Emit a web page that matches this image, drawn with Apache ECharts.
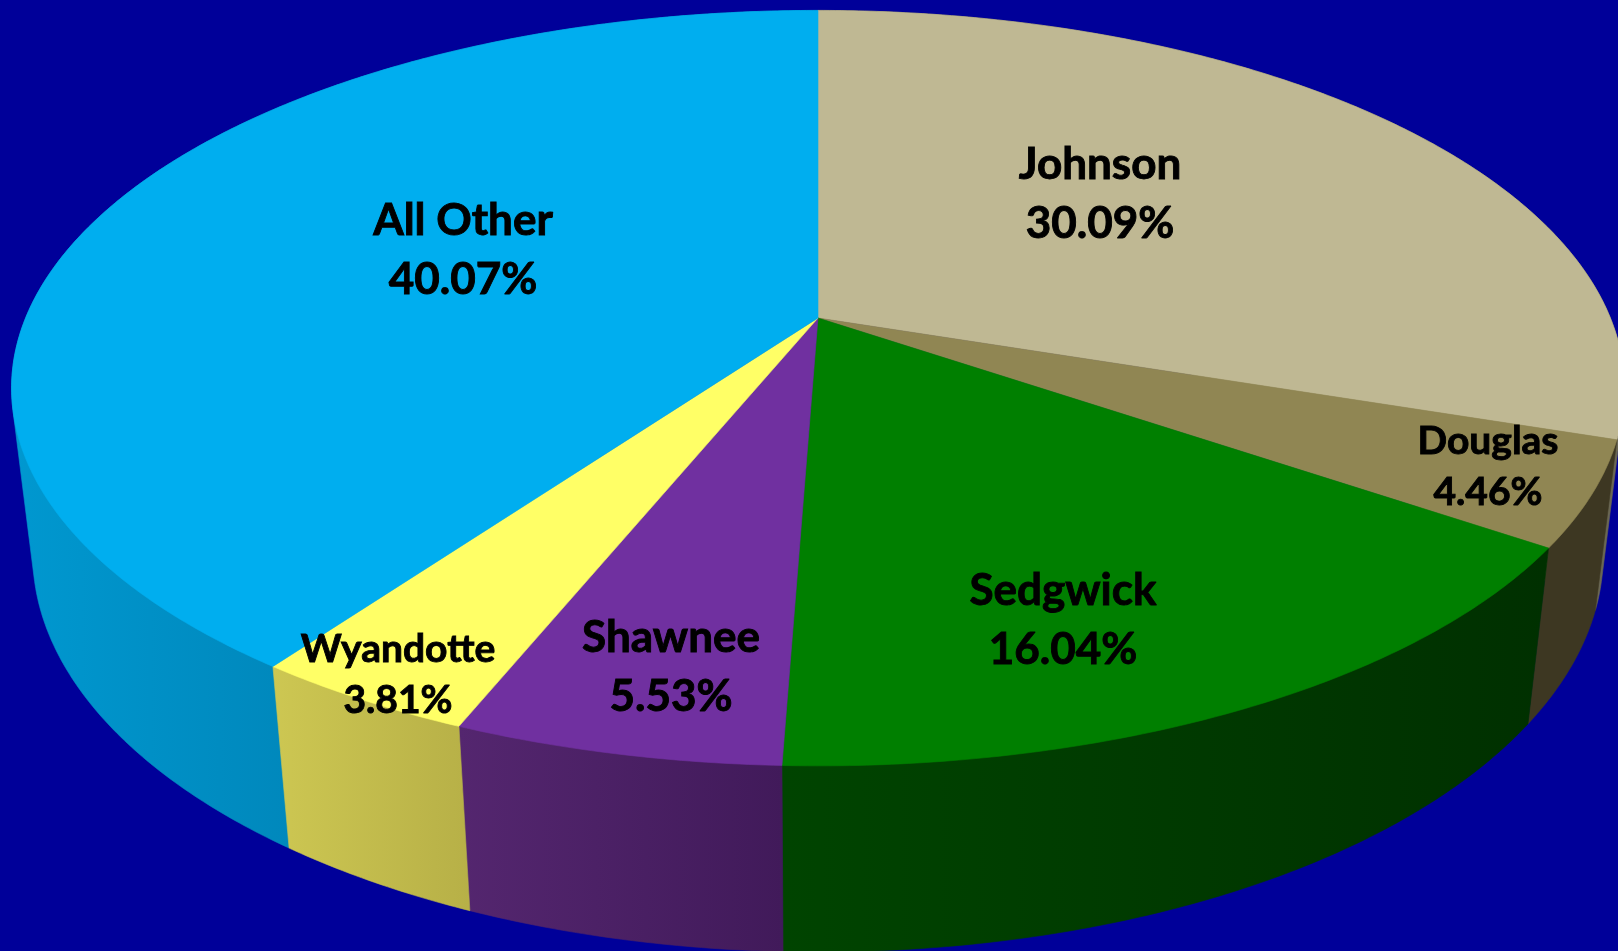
<!DOCTYPE html>
<html><head><meta charset="utf-8">
<style>html,body{margin:0;padding:0;background:#000099}#c{width:1618px;height:951px}</style>
<script src="https://cdn.jsdelivr.net/npm/echarts@6/dist/echarts.min.js"></script>
</head><body><div id="c"></div>
<script>
// Data (clockwise from 12 o'clock)
var categories = ['Johnson', 'Douglas', 'Sedgwick', 'Shawnee', 'Wyandotte', 'All Other'];
var shares = [30.09, 4.46, 16.04, 5.53, 3.81, 40.07];

// Styles
var topColors = ['#BFB893', '#908653', '#007F00', '#7030A0', '#FFFF66', '#00AEEF'];
var wallFrom = ['#6a6753', '#3D3722', '#004400', '#54266F', '#CDC752', '#0098D0'];
var wallTo = ['#6a6753', '#3D3722', '#003000', '#411A5A', '#B7B047', '#0088BC'];
var wallPaintOrder = [5, 0, 1, 2, 3, 4];
var labelAt = [[1100, 194], [1488, 467], [1063, 620], [671, 667], [398, 675], [463, 250]];
var labelFont = [44, 39, 44, 44, 39, 44];
var labelLine = [59, 51, 59, 59, 51, 59];

// Perspective view of the disc
var view = { cx: 818, cy: 318, a: 792.4, b: 364.7, k: 0.1857, depth: 168, m: 0.026 };

function project(deg, lower) {
  var t = deg * Math.PI / 180, u = Math.sin(t), v = Math.cos(t);
  var w = 1 + view.k * v + (lower ? view.m : 0);
  return [view.cx + view.a * u / w, view.cy + (-view.b * v + (lower ? view.depth : 0)) / w];
}
function rim(from, to, lower) {
  var pts = [], n = Math.max(2, Math.ceil(Math.abs(to - from) * 2));
  for (var i = 0; i <= n; i++) pts.push(project(from + (to - from) * i / n, lower));
  return pts;
}
function hull(points) {
  var p = points.slice().sort(function (a, b) { return a[0] - b[0] || a[1] - b[1]; });
  function cross(o, a, b) { return (a[0] - o[0]) * (b[1] - o[1]) - (a[1] - o[1]) * (b[0] - o[0]); }
  function half(list) {
    var out = [];
    list.forEach(function (q) {
      while (out.length > 1 && cross(out[out.length - 2], out[out.length - 1], q) <= 0) out.pop();
      out.push(q);
    });
    out.pop();
    return out;
  }
  return half(p).concat(half(p.slice().reverse()));
}
var total = shares.reduce(function (a, b) { return a + b; }, 0);
function startAngle(idx) {
  var s = 0; for (var i = 0; i < idx; i++) s += shares[i];
  return s / total * 360;
}
function range(idx) { return [startAngle(idx), startAngle(idx) + shares[idx] / total * 360]; }

function renderWall(p, api) {
  var i = api.value(1), r = range(i);
  var all = rim(r[0], r[1], false).concat(rim(r[0], r[1], true));
  // The visible part of the gradient runs over the front of the slice only.
  var xs = all.filter(function (q) { return q[1] > view.cy; }).map(function (q) { return q[0]; });
  var x0 = xs.length ? Math.min.apply(null, xs) : 0, x1 = xs.length ? Math.max.apply(null, xs) : 1618;
  var grad = new echarts.graphic.LinearGradient(x0, 0, x1, 0, [
    { offset: 0, color: wallFrom[i] }, { offset: 1, color: wallTo[i] }
  ], true);
  return {
    type: 'polygon', silent: true,
    shape: { points: hull(all) },
    style: { fill: grad, stroke: grad, lineWidth: 0.6 }
  };
}
function renderTop(p, api) {
  var i = p.dataIndex, r = range(i);
  var pts = [[view.cx, view.cy]].concat(rim(r[0], r[1], false));
  return {
    type: 'polygon', silent: true,
    shape: { points: pts },
    style: { fill: topColors[i], stroke: topColors[i], lineWidth: 0.6 }
  };
}
function renderLabel(p, api) {
  var i = p.dataIndex;
  return {
    type: 'text', silent: true,
    style: {
      text: categories[i] + '\n' + api.value(0).toFixed(2) + '%',
      x: labelAt[i][0], y: labelAt[i][1],
      align: 'center', verticalAlign: 'middle',
      fontFamily: 'Lato', fontWeight: 'bold',
      fontSize: labelFont[i], lineHeight: labelLine[i],
      fill: '#000', stroke: '#000', lineWidth: 0.9
    }
  };
}
var chart = echarts.init(document.getElementById('c'));
var rows = shares.map(function (v) { return [v]; });
var wallRows = wallPaintOrder.map(function (i) { return [shares[i], i]; });
chart.setOption({
  backgroundColor: '#000099',
  animation: false,
  series: [
    { type: 'custom', coordinateSystem: 'none', data: wallRows, renderItem: renderWall, z: 1 },
    { type: 'custom', coordinateSystem: 'none', data: rows, renderItem: renderTop, z: 2 },
    { type: 'custom', coordinateSystem: 'none', data: rows, renderItem: renderLabel, z: 3 }
  ]
});
</script></body></html>
